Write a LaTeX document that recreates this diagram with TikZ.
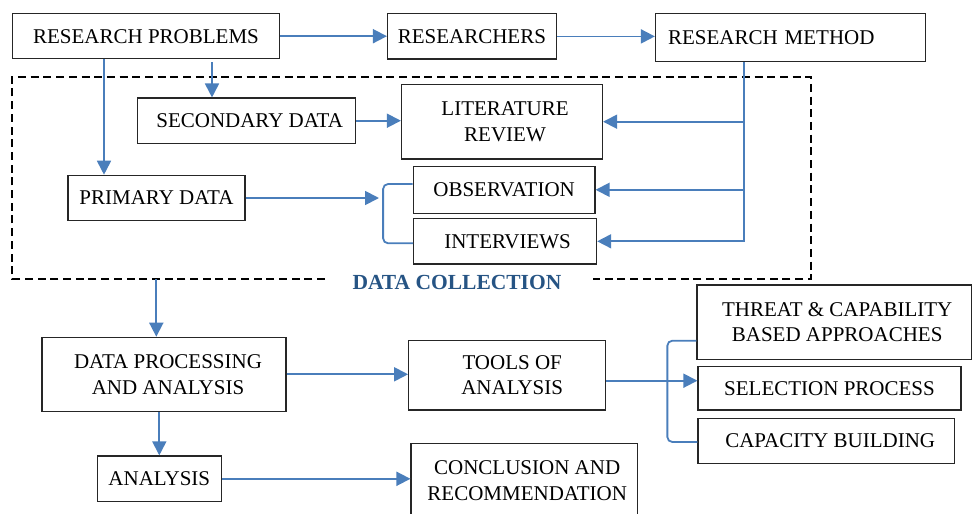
\documentclass[tikz,border=0pt]{standalone}
\usepackage{fontspec}
\setmainfont{Liberation Serif}
\usetikzlibrary{arrows.meta}
\definecolor{linkblue}{RGB}{74,126,187}
\definecolor{dctext}{RGB}{38,84,132}
\begin{document}
\begin{tikzpicture}[x=1pt,y=-1pt,
  box/.style={draw=black!85, line width=1.2pt, inner sep=0pt, align=center,
              font=\fontsize{21}{25.7}\selectfont},
  link/.style={draw=linkblue, line width=1.8pt},
  arr/.style={link, -{Triangle[length=14pt,width=14pt]}},
  bracket/.style={link, rounded corners=5pt},
  frame/.style={draw=black, line width=1.9pt, dash pattern=on 8pt off 4.7pt}
]
\useasboundingbox (0,0) rectangle (972,514);
\clip (0,0) rectangle (972,514);

% top row
\node[box, minimum width=266.6pt, minimum height=45pt] (rp) at (146,36.2) {RESEARCH PROBLEMS};
\node[box, minimum width=168.7pt, minimum height=45.3pt] (rs) at (471.9,36.4) {RESEARCHERS};
\node[box, inner xsep=12.5pt, text width=245.2pt, align=left, minimum height=48pt] (rm) at (790.6,37.7) {RESEARCH METHOD};

% data collection area
\node[box, minimum width=218pt, minimum height=45.3pt] (sd) at (246.7,120.7) {\hspace*{6pt}SECONDARY DATA};
\node[box, minimum width=201pt, minimum height=74.7pt] (lr) at (502,121.7) {\hspace*{6pt}LITERATURE\\\hspace*{6pt}REVIEW};
\node[box, minimum width=177pt, minimum height=45.4pt] (pd) at (156.5,198) {PRIMARY DATA};
\node[box, minimum width=181.8pt, minimum height=47pt] (ob) at (504.1,189.8) {OBSERVATION};
\node[box, minimum width=183pt, minimum height=45.3pt] (iv) at (505.1,241.3) {\hspace*{5pt}INTERVIEWS};

\node[anchor=base west, inner sep=0pt, text=dctext, font=\fontsize{21.5}{25}\selectfont\bfseries] (dc) at (352.3,289.3) {DATA COLLECTION};
\draw[frame] (325,279) -- (12.3,279) -- (12.3,76.7) -- (811,76.7) -- (811,279) -- (593,279);

% lower part
\node[box, minimum width=244pt, minimum height=74pt] (dpa) at (164,374.3) {\hspace*{8pt}DATA PROCESSING\\\hspace*{8pt}AND ANALYSIS};
\node[box, minimum width=124pt, minimum height=45.7pt] (an) at (159.3,478.8) {ANALYSIS};
\node[box, minimum width=197pt, minimum height=69.7pt] (to) at (507.2,375.2) {\hspace*{10pt}TOOLS OF\\\hspace*{10pt}ANALYSIS};
\node[box, minimum width=226.3pt, minimum height=75pt] (cr) at (524.2,480.8) {\hspace*{6pt}CONCLUSION AND\\\hspace*{6pt}RECOMMENDATION};
\node[box, minimum width=274.5pt, minimum height=74.3pt] (th) at (834.2,322.2) {\hspace*{6pt}THREAT \& CAPABILITY\\\hspace*{6pt}BASED APPROACHES};
\node[box, minimum width=263pt, minimum height=43.3pt] (sp) at (829.5,388.3) {SELECTION PROCESS};
\node[box, minimum width=256.3pt, minimum height=45pt] (cb) at (826.2,440.8) {\hspace*{8pt}CAPACITY BUILDING};

% connectors: top row
\draw[arr] (rp.east) -- (rp.east -| rs.west);
\draw[arr] (rs.east) -- (rs.east -| rm.west);

% research problems to data types
\coordinate (rpsd) at ([xshift=-34.7pt]sd.north);
\coordinate (rpsdtop) at ([yshift=-3pt]rpsd |- rp.south);
\draw[arr] (rpsdtop) -- (rpsd);
\coordinate (rppd) at ([xshift=-52.5pt]pd.north);
\draw[arr] (rppd |- rp.south) -- (rppd);

\draw[arr] (sd.east) -- (sd.east -| lr.west);

% primary data to bracket
\coordinate (pdb) at (379,198);
\draw[arr] (pd.east) -- (pdb);
\draw[bracket] ([yshift=5.8pt]ob.west) -- ++(-29.5,0) |- ([yshift=-2pt]iv.west);

% research method to methods
\coordinate (rmv) at ([xshift=-46.6pt]rm.south);
\draw[arr] (rmv) -- (rmv |- iv.east) -- (iv.east);
\draw[arr] (rmv |- lr.east) -- (lr.east);
\draw[arr] (rmv |- ob.east) -- (ob.east);

% data collection to processing
\coordinate (dcd) at (156.3,279);
\draw[arr] (dcd) -- (dcd |- dpa.north);
\draw[arr] (dpa.south -| an.north) -- (an.north);
\draw[arr] (dpa.east) -- (dpa.east -| to.west);
\draw[arr] (an.east) -- (an.east -| cr.west);

% tools to approaches
\coordinate (tsp) at ([yshift=-5.5pt]to.east);
\draw[arr] (tsp) -- (tsp -| sp.west);
\draw[bracket] ([yshift=-18.5pt]th.west) -- ++(-29,0) |- ([yshift=-1.2pt]cb.west);
\end{tikzpicture}
\end{document}
